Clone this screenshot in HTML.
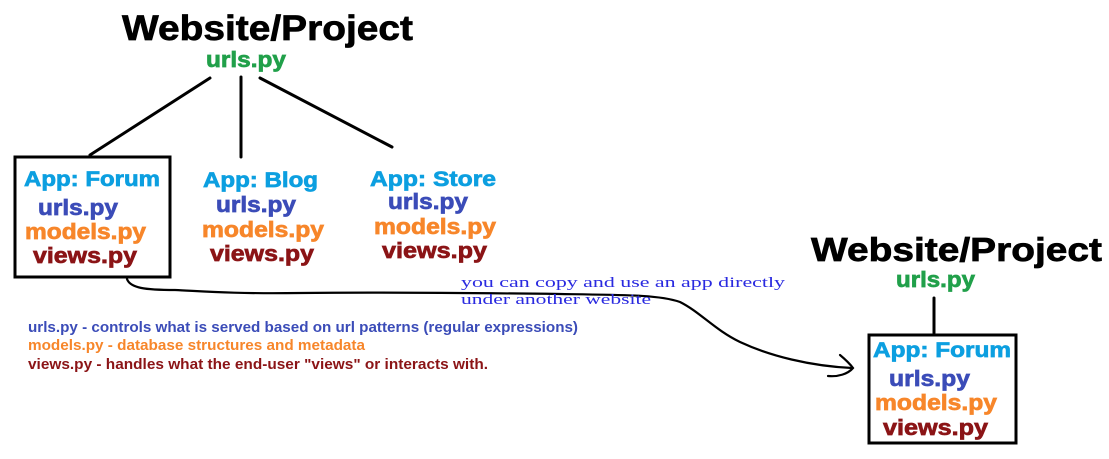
<!DOCTYPE html>
<html><head><meta charset="utf-8"><style>
html,body{margin:0;padding:0;background:#fff;width:1109px;height:459px;overflow:hidden}
svg{display:block}
.t{font-family:"Liberation Sans",Arial,sans-serif;font-weight:bold}
.h{font-family:"Liberation Sans",Arial,sans-serif;font-weight:bold;stroke:#000;stroke-width:1.6}
.k text{stroke-width:0.7}
</style></head><body>
<svg width="1109" height="459" viewBox="0 0 1109 459" xmlns="http://www.w3.org/2000/svg">
<g fill="none" stroke="#000" stroke-width="3" stroke-linecap="round">
<line x1="210" y1="78" x2="90" y2="155"/>
<line x1="241" y1="77" x2="241" y2="157"/>
<line x1="260" y1="78" x2="392" y2="147"/>
<rect x="15" y="157" width="155" height="120"/>
<line x1="934" y1="298" x2="934" y2="333"/>
<rect x="869" y="335" width="147" height="108"/>
<path stroke-width="2.2" d="M127,279 C130,288 145,290 175,290 C200,291 230,294 300,293 C380,292 480,293 560,294 C630,295 660,295 680,302 C700,312 715,330 740,342 C770,356 810,366 852,368"/>
<path stroke-width="2.2" d="M840,355 C846,360 850,364 853,368 C848,374 838,377 828,376"/>
</g>
<g class="t k">
<text class="h" x="122" y="40" font-size="35" textLength="291" lengthAdjust="spacingAndGlyphs" fill="#000">Website/Project</text>
<text x="206" y="67" font-size="22" textLength="80" lengthAdjust="spacingAndGlyphs" fill="#21a04a" stroke="#21a04a">urls.py</text>

<text x="24" y="186" font-size="21" textLength="136" lengthAdjust="spacingAndGlyphs" fill="#0c9fe0" stroke="#0c9fe0">App: Forum</text>
<text x="38" y="215" font-size="22" textLength="80" lengthAdjust="spacingAndGlyphs" fill="#3b4cb8" stroke="#3b4cb8">urls.py</text>
<text x="25" y="239" font-size="22" textLength="121" lengthAdjust="spacingAndGlyphs" fill="#f7862a" stroke="#f7862a">models.py</text>
<text x="33" y="263" font-size="22" textLength="104" lengthAdjust="spacingAndGlyphs" fill="#8b1416" stroke="#8b1416">views.py</text>

<text x="203" y="187" font-size="21" textLength="115" lengthAdjust="spacingAndGlyphs" fill="#0c9fe0" stroke="#0c9fe0">App: Blog</text>
<text x="216" y="212" font-size="22" textLength="80" lengthAdjust="spacingAndGlyphs" fill="#3b4cb8" stroke="#3b4cb8">urls.py</text>
<text x="202" y="237" font-size="22" textLength="122" lengthAdjust="spacingAndGlyphs" fill="#f7862a" stroke="#f7862a">models.py</text>
<text x="210" y="261" font-size="22" textLength="104" lengthAdjust="spacingAndGlyphs" fill="#8b1416" stroke="#8b1416">views.py</text>

<text x="370" y="186" font-size="21" textLength="126" lengthAdjust="spacingAndGlyphs" fill="#0c9fe0" stroke="#0c9fe0">App: Store</text>
<text x="388" y="209" font-size="22" textLength="80" lengthAdjust="spacingAndGlyphs" fill="#3b4cb8" stroke="#3b4cb8">urls.py</text>
<text x="374" y="234" font-size="22" textLength="122" lengthAdjust="spacingAndGlyphs" fill="#f7862a" stroke="#f7862a">models.py</text>
<text x="382" y="258" font-size="22" textLength="105" lengthAdjust="spacingAndGlyphs" fill="#8b1416" stroke="#8b1416">views.py</text>

<text class="h" x="811" y="261" font-size="33" textLength="291" lengthAdjust="spacingAndGlyphs" fill="#000">Website/Project</text>
<text x="896" y="287" font-size="22" textLength="79" lengthAdjust="spacingAndGlyphs" fill="#21a04a" stroke="#21a04a">urls.py</text>

<text x="873" y="357" font-size="21" textLength="138" lengthAdjust="spacingAndGlyphs" fill="#0c9fe0" stroke="#0c9fe0">App: Forum</text>
<text x="889" y="386" font-size="22" textLength="81" lengthAdjust="spacingAndGlyphs" fill="#3b4cb8" stroke="#3b4cb8">urls.py</text>
<text x="875" y="410" font-size="22" textLength="122" lengthAdjust="spacingAndGlyphs" fill="#f7862a" stroke="#f7862a">models.py</text>
<text x="883" y="435" font-size="22" textLength="105" lengthAdjust="spacingAndGlyphs" fill="#8b1416" stroke="#8b1416">views.py</text>
</g>
<g class="t">
<text x="28" y="332" font-size="15" textLength="550" lengthAdjust="spacingAndGlyphs" fill="#3b4cb8">urls.py - controls what is served based on url patterns (regular expressions)</text>
<text x="28" y="350" font-size="15" textLength="337" lengthAdjust="spacingAndGlyphs" fill="#f7862a">models.py - database structures and metadata</text>
<text x="28" y="369" font-size="15" textLength="460" lengthAdjust="spacingAndGlyphs" fill="#8b1416">views.py - handles what the end-user "views" or interacts with.</text>
</g>
<g font-family="'Liberation Serif',serif" font-size="15" fill="#2a2ae0">
<text x="461" y="287" textLength="324" lengthAdjust="spacingAndGlyphs">you can copy and use an app directly</text>
<text x="461" y="304" textLength="190" lengthAdjust="spacingAndGlyphs">under another website</text>
</g>
</svg>
</body></html>
